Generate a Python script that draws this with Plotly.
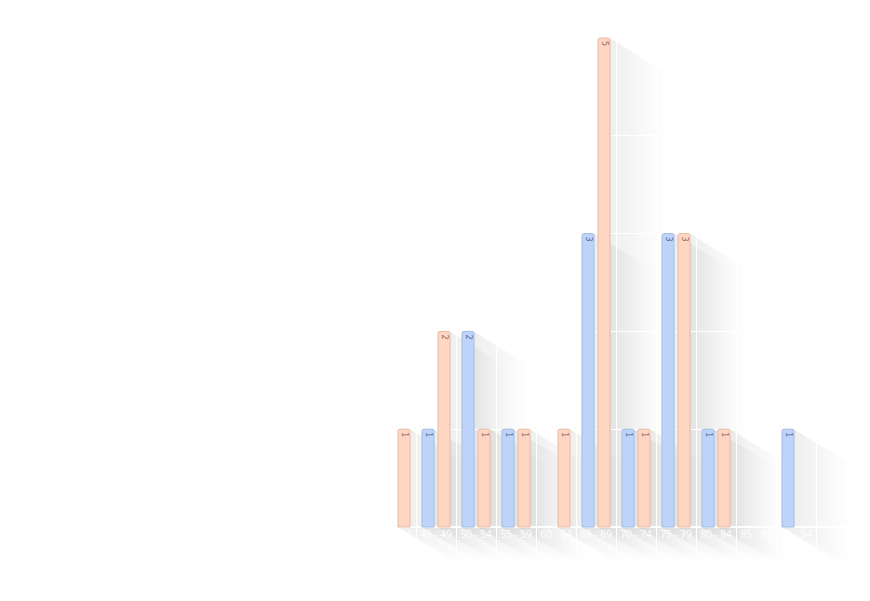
import plotly.graph_objects as go

categories = ["40 - 44", "45 - 49", "50 - 54", "55 - 59", "60 - 64", "65 - 69",
              "70 - 74", "75 - 79", "80 - 84", "85 - 89", "90 - 94"]
blue_values = [0, 1, 2, 1, 0, 3, 1, 3, 1, 0, 1]
orange_values = [1, 2, 1, 1, 1, 5, 1, 3, 1, 0, 0]

W, H = 870, 601
OFF = 8                            # page body margin
PX_LEFT, PX_RIGHT = 376 - OFF, 816 - OFF
PX_BASE, PX_TOP5 = 527 - OFF, 38 - OFF
cat_px = (PX_RIGHT - PX_LEFT) / len(categories)
unit_px = (PX_BASE - PX_TOP5) / 5.0
x0_center_px = PX_LEFT + cat_px / 2

xr = [-x0_center_px / cat_px, (W - x0_center_px) / cat_px]
yr = [-(H - PX_BASE) / unit_px, PX_BASE / unit_px]

BAR_W = 0.3
series = [
    dict(name="Series A", vals=blue_values, offset=-0.35, fill="#bfd4fb", line="#a3badf",
         text="#56698c", shadow=(120, 124, 138)),
    dict(name="Series B", vals=orange_values, offset=0.05, fill="#fed6c1", line="#e5bca6",
         text="#8f6a58", shadow=(138, 130, 124)),
]

fig = go.Figure()
shapes = []
N = 16
SH_DX = 55 / cat_px
SH_DY = -34 / unit_px
for s in series:
    xs, ys = [], []
    for i, v in enumerate(s["vals"]):
        if v:
            xs.append(i)
            ys.append(v)
            x0 = i + s["offset"]
            x1 = x0 + BAR_W
            r, g, b = s["shadow"]
            for k in range(1, N + 1):
                t = k / N
                sx, sy = SH_DX * t, SH_DY * t
                path = (f"M {x0},{v} L {x1},{v} L {x1+sx},{v+sy} L {x1+sx},{sy} "
                        f"L {x0+sx},{sy} L {x0},0 Z")
                shapes.append(dict(type="path", path=path, xref="x", yref="y",
                                   layer="below", line=dict(width=0),
                                   fillcolor=f"rgba({r},{g},{b},0.0065)"))
    fig.add_trace(go.Bar(
        x=xs, y=ys, name=s["name"], width=BAR_W, offset=s["offset"],
        marker=dict(color=s["fill"], line=dict(color=s["line"], width=1), cornerradius=2),
        text=[str(v) for v in ys], textposition="inside", insidetextanchor="end",
        textangle=90, constraintext="none",
        textfont=dict(size=8, color=s["text"], family="DejaVu Sans"),
        showlegend=False, hoverinfo="skip",
    ))

fig.update_layout(
    width=W, height=H, margin=dict(l=0, r=0, t=0, b=0),
    paper_bgcolor="white", plot_bgcolor="white",
    barmode="overlay", shapes=shapes,
    font=dict(family="Open Sans"),
    xaxis=dict(range=xr, tickmode="array", tickvals=list(range(len(categories))),
               ticktext=categories, showgrid=False, zeroline=False, showline=False,
               ticks="", tickfont=dict(size=10, color="white"),
               anchor="free", position=(H - PX_BASE) / H,
               minor=dict(tickmode="array",
                          tickvals=[i - 0.5 for i in range(len(categories) + 1)],
                          showgrid=True, gridcolor="white", gridwidth=1, ticks="")),
    yaxis=dict(range=yr, tickmode="array", tickvals=[1, 2, 3, 4, 5],
               showticklabels=False, showgrid=True, gridcolor="white",
               zeroline=True, zerolinecolor="white", zerolinewidth=1.5),
)

fig.write_html("out.html")
